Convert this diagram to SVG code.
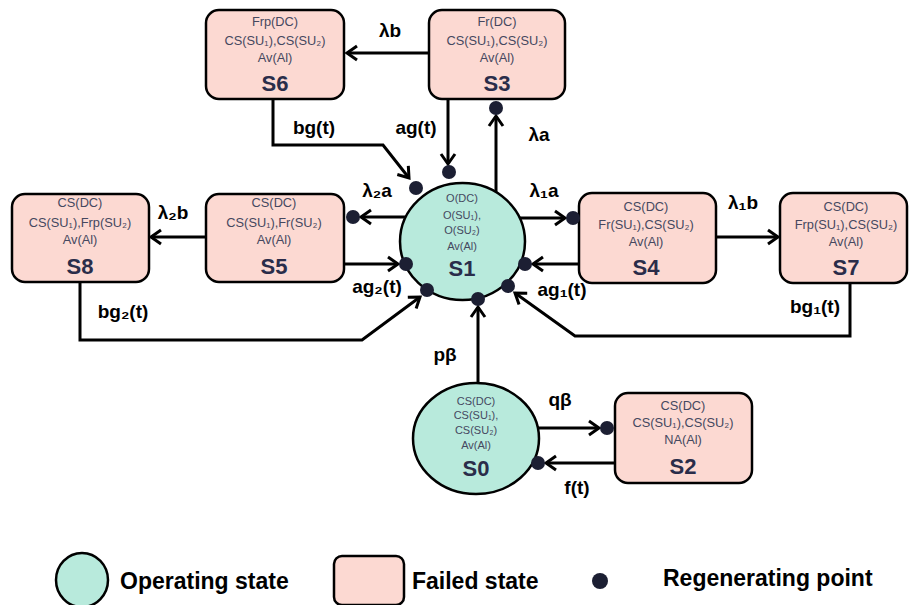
<svg xmlns="http://www.w3.org/2000/svg" width="909" height="605" viewBox="0 0 909 605">
<style>
.box{fill:#fcd9d2;stroke:#000;stroke-width:2.5}
.op{fill:#b8eadc;stroke:#000;stroke-width:2.5}
.t{font-family:"Liberation Sans","DejaVu Sans",sans-serif;font-size:12.8px;fill:#45485f;text-anchor:middle}
.tc{font-family:"Liberation Sans","DejaVu Sans",sans-serif;font-size:11px;fill:#45485f;text-anchor:middle}
.s{font-family:"Liberation Sans","DejaVu Sans",sans-serif;font-size:22px;font-weight:bold;fill:#2a2d4a;text-anchor:middle}
.lab{font-family:"Liberation Sans","DejaVu Sans",sans-serif;font-size:19px;font-weight:bold;fill:#000;text-anchor:middle}
.leg{font-family:"Liberation Sans","DejaVu Sans",sans-serif;font-size:23px;font-weight:bold;fill:#000}
.c{fill:none;stroke:#000;stroke-width:3;stroke-linejoin:miter}
.dot{fill:#1c1f33}
</style>
<defs>
<marker id="ah" markerUnits="userSpaceOnUse" markerWidth="16" markerHeight="18" viewBox="0 0 16 18" refX="13" refY="9" orient="auto">
<path d="M3,2 L13,9 L3,16" fill="none" stroke="#000" stroke-width="3"/>
</marker>
</defs>
<g id="connectors">
<path class="c" d="M429,53 L347,53" marker-end="url(#ah)"/>
<path class="c" d="M273,99 L273,145 L383,145 L409,178" marker-end="url(#ah)"/>
<path class="c" d="M448,99 L448,164" marker-end="url(#ah)"/>
<path class="c" d="M496,200 L496,116" marker-end="url(#ah)"/>
<path class="c" d="M410,217 L361,217" marker-end="url(#ah)"/>
<path class="c" d="M206,237 L151,237" marker-end="url(#ah)"/>
<path class="c" d="M344,264 L398,264" marker-end="url(#ah)"/>
<path class="c" d="M80,282 L80,340 L362,340 L420,297" marker-end="url(#ah)"/>
<path class="c" d="M515,218 L565,218" marker-end="url(#ah)"/>
<path class="c" d="M716,237 L778,237" marker-end="url(#ah)"/>
<path class="c" d="M579,264 L533,264" marker-end="url(#ah)"/>
<path class="c" d="M850,283 L850,336 L575,336 L515,293" marker-end="url(#ah)"/>
<path class="c" d="M478,390 L478,307" marker-end="url(#ah)"/>
<path class="c" d="M530,428 L599,428" marker-end="url(#ah)"/>
<path class="c" d="M615,463 L546,463" marker-end="url(#ah)"/>
</g>
<g id="S6">
<rect class="box" x="206" y="10" width="138" height="89" rx="13"/>
<text class="t" x="275" y="26">Frp(DC)</text>
<text class="t" x="275" y="45">CS(SU₁),CS(SU₂)</text>
<text class="t" x="275" y="62">Av(Al)</text>
<text class="s" x="275" y="91">S6</text>
</g>
<g id="S3">
<rect class="box" x="429" y="10" width="136" height="89" rx="13"/>
<text class="t" x="497" y="26">Fr(DC)</text>
<text class="t" x="497" y="45">CS(SU₁),CS(SU₂)</text>
<text class="t" x="497" y="62">Av(Al)</text>
<text class="s" x="497" y="91">S3</text>
</g>
<g id="S8">
<rect class="box" x="12" y="194" width="137" height="88" rx="13"/>
<text class="t" x="80" y="207">CS(DC)</text>
<text class="t" x="80" y="227">CS(SU₁),Frp(SU₂)</text>
<text class="t" x="80" y="244">Av(Al)</text>
<text class="s" x="80" y="274">S8</text>
</g>
<g id="S5">
<rect class="box" x="206" y="194" width="138" height="88" rx="13"/>
<text class="t" x="274" y="207">CS(DC)</text>
<text class="t" x="274" y="227">CS(SU₁),Fr(SU₂)</text>
<text class="t" x="274" y="244">Av(Al)</text>
<text class="s" x="274" y="274">S5</text>
</g>
<g id="S1">
<ellipse class="op" cx="462.5" cy="241.5" rx="62.5" ry="58.5"/>
<text class="tc" x="462" y="202">O(DC)</text>
<text class="tc" x="462" y="219">O(SU₁),</text>
<text class="tc" x="462" y="234">O(SU₂)</text>
<text class="tc" x="462" y="250">Av(Al)</text>
<text class="s" x="462" y="276">S1</text>
</g>
<g id="S4">
<rect class="box" x="579" y="193" width="137" height="90" rx="13"/>
<text class="t" x="646" y="211">CS(DC)</text>
<text class="t" x="646" y="229">Fr(SU₁),CS(SU₂)</text>
<text class="t" x="646" y="246">Av(Al)</text>
<text class="s" x="646" y="275">S4</text>
</g>
<g id="S7">
<rect class="box" x="780" y="193" width="127" height="90" rx="13"/>
<text class="t" x="846" y="211">CS(DC)</text>
<text class="t" x="846" y="229">Frp(SU₁),CS(SU₂)</text>
<text class="t" x="846" y="246">Av(Al)</text>
<text class="s" x="846" y="275">S7</text>
</g>
<g id="S0">
<ellipse class="op" cx="476" cy="438.5" rx="63" ry="55.5"/>
<text class="tc" x="476" y="405">CS(DC)</text>
<text class="tc" x="476" y="419">CS(SU₁),</text>
<text class="tc" x="476" y="434">CS(SU₂)</text>
<text class="tc" x="476" y="449">Av(Al)</text>
<text class="s" x="476" y="476">S0</text>
</g>
<g id="S2">
<rect class="box" x="615" y="393" width="137" height="90" rx="13"/>
<text class="t" x="683" y="410">CS(DC)</text>
<text class="t" x="683" y="427">CS(SU₁),CS(SU₂)</text>
<text class="t" x="683" y="444">NA(Al)</text>
<text class="s" x="683" y="474">S2</text>
</g>
<g id="regenerating-points">
<circle class="dot" cx="449" cy="172" r="7"/>
<circle class="dot" cx="416" cy="188" r="7"/>
<circle class="dot" cx="353" cy="217" r="7"/>
<circle class="dot" cx="406" cy="264" r="7"/>
<circle class="dot" cx="427" cy="290" r="7"/>
<circle class="dot" cx="478" cy="299" r="7"/>
<circle class="dot" cx="508" cy="286" r="7"/>
<circle class="dot" cx="525" cy="264" r="7"/>
<circle class="dot" cx="496" cy="108" r="7"/>
<circle class="dot" cx="573" cy="218" r="7"/>
<circle class="dot" cx="607" cy="428" r="7"/>
<circle class="dot" cx="538" cy="463" r="7"/>
</g>
<g id="labels">
<text class="lab" x="390" y="37">λb</text>
<text class="lab" x="314" y="134">bg(t)</text>
<text class="lab" x="416" y="134">ag(t)</text>
<text class="lab" x="539" y="141">λa</text>
<text class="lab" x="377" y="197">λ₂a</text>
<text class="lab" x="544" y="197">λ₁a</text>
<text class="lab" x="173" y="219">λ₂b</text>
<text class="lab" x="743" y="209">λ₁b</text>
<text class="lab" x="377" y="293">ag₂(t)</text>
<text class="lab" x="562" y="296">ag₁(t)</text>
<text class="lab" x="123" y="318">bg₂(t)</text>
<text class="lab" x="815" y="313">bg₁(t)</text>
<text class="lab" x="445" y="361">pβ</text>
<text class="lab" x="560" y="406">qβ</text>
<text class="lab" x="577" y="494">f(t)</text>
</g>
<g id="legend">
<ellipse class="op" cx="82" cy="580" rx="26" ry="27"/>
<text class="leg" x="120" y="589">Operating state</text>
<rect class="box" x="334" y="556" width="70" height="49" rx="8"/>
<text class="leg" x="412" y="589">Failed state</text>
<circle class="dot" cx="600" cy="581" r="8"/>
<text class="leg" x="663" y="586">Regenerating point</text>
</g>
</svg>
